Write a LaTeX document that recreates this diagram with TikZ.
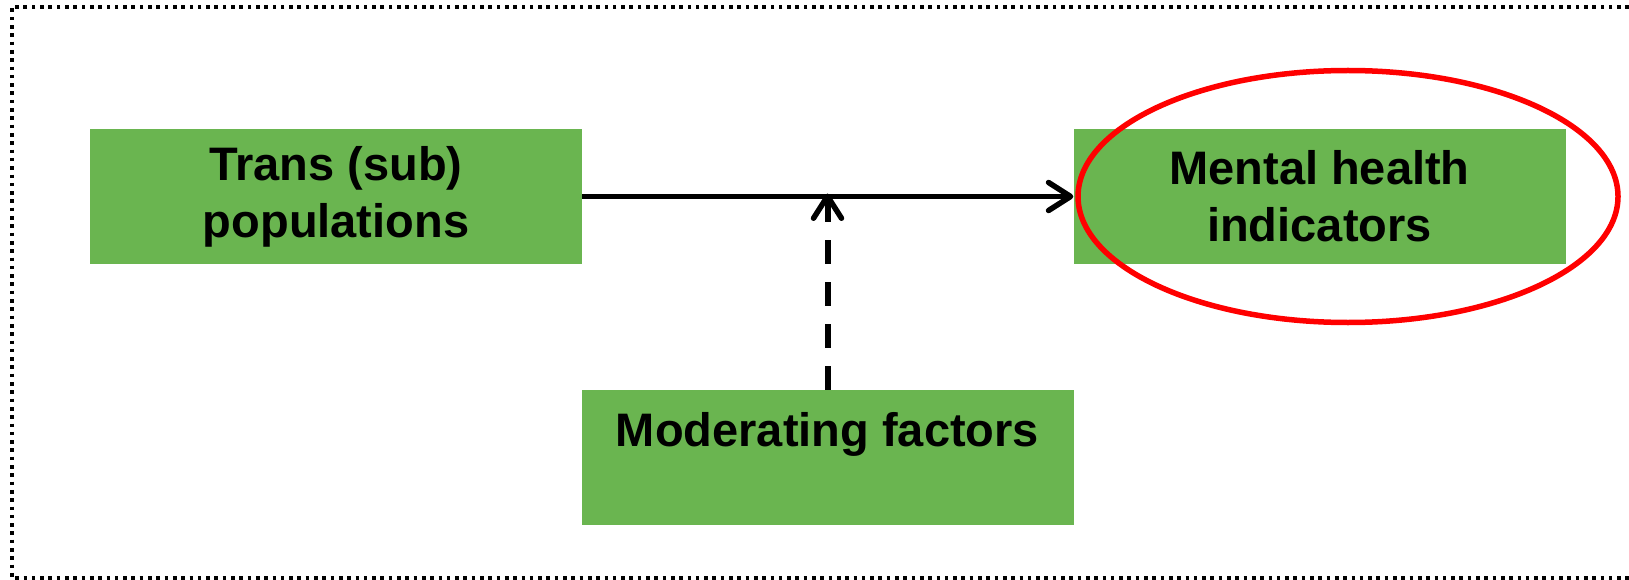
\documentclass[tikz,border=0pt]{standalone}
\usepackage{fontspec}
\setmainfont{Liberation Sans}
\usetikzlibrary{arrows.meta}

\definecolor{boxgreen}{RGB}{106,181,80}

\tikzset{
  factor/.style={fill=boxgreen, minimum width=492, minimum height=135,
    inner sep=0, align=center,
    font=\fontsize{47}{57}\selectfont\bfseries},
  barb/.style={-{Straight Barb[length=22pt,width=28pt,line width=5.5pt,round]}}
}

\begin{document}
\begin{tikzpicture}[x=1pt,y=-1pt]
\useasboundingbox (0,0) rectangle (1629,580);

\draw[line width=3.6, dash pattern=on 3.6 off 4.7]
  (1629,7) -- (12,7) -- (12,578) -- (1629,578);

\node[factor] (trans) at (336,196.5) {Trans (sub)\\populations};
\node[factor] (mental) at (1319.5,196.5) {Mental health\\indicators};
\node[factor] (moder) at (827.5,457.5) {Moderating factors\\ \mbox{}};

\draw[line width=5.5, barb]
  (trans.east) -- (mental.west);
\draw[line width=6, dash pattern=on 24 off 18, barb]
  (moder.north) -- ([yshift=3]moder.north |- trans.east);

\draw[red, line width=5.5]
  (mental.center) ++(28.5,0) ellipse [x radius=270, y radius=126];
\end{tikzpicture}
\end{document}
